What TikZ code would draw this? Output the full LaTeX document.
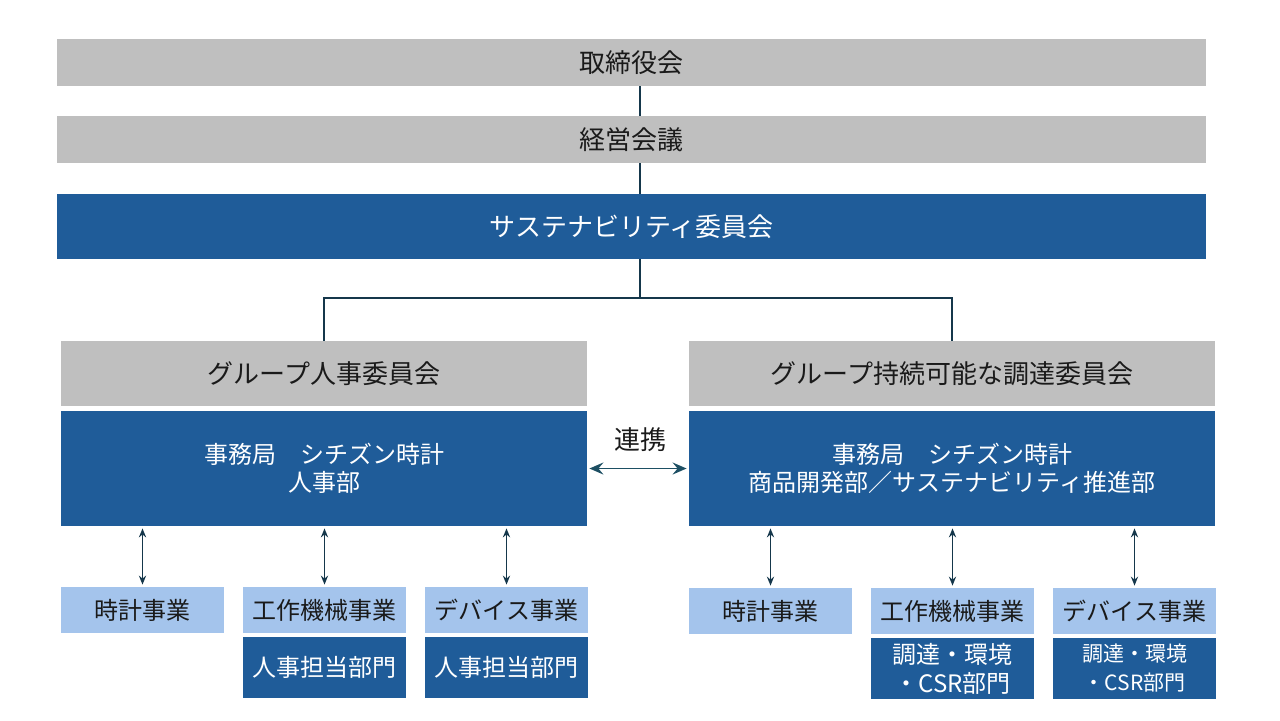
\documentclass[tikz,border=0pt]{standalone}
\usepackage{fontspec}
\setmainfont{Noto Sans CJK JP}
\usetikzlibrary{arrows.meta}
\definecolor{grayb}{HTML}{BFBFBF}
\definecolor{blueb}{HTML}{1F5C99}
\definecolor{lightb}{HTML}{A4C4EC}
\definecolor{linec}{HTML}{15374B}
\definecolor{linkc}{HTML}{1D4F63}
\definecolor{txt}{HTML}{1A1A1A}
\tikzset{
  base/.style={draw=none, inner sep=0pt, align=center},
  graybox/.style={base, fill=grayb, text=txt, font=\fontsize{13}{15}\selectfont},
  bluebox/.style={base, fill=blueb, text=white, font=\fontsize{13}{15}\selectfont},
  secbox/.style={base, fill=blueb, text=white, font=\fontsize{12}{14}\selectfont},
  unitbox/.style={base, fill=lightb, text=txt, minimum width=81.5pt, minimum height=23pt, font=\fontsize{12}{14}\selectfont},
  deptbox/.style={base, fill=blueb, text=white, minimum width=81.5pt, minimum height=30.5pt, font=\fontsize{12}{14.5}\selectfont},
  conn/.style={draw=linec, line width=0.6pt},
  darrow/.style={draw=linec, line width=0.7pt, {Stealth[length=4.5pt,width=3.6pt,inset=1.5pt]}-{Stealth[length=4.5pt,width=3.6pt,inset=1.5pt]}},
  linkarrow/.style={draw=linkc, line width=0.9pt, {Stealth[length=7pt,width=6pt,inset=2.5pt]}-{Stealth[length=7pt,width=6pt,inset=2.5pt]}},
}
\begin{document}
\begin{tikzpicture}[x=0.5pt,y=-0.5pt]
\useasboundingbox (0,0) rectangle (1280,720);
% top
\node[graybox, minimum width=574.5pt, minimum height=23.5pt] (board) at (631.5,62.5) {取締役会};
\node[graybox, minimum width=574.5pt, minimum height=23.5pt] (mgmt) at (631.5,139.5) {経営会議};
\node[bluebox, minimum width=574.5pt, minimum height=32.5pt] (sus) at (631.5,226.5) {サステナビリティ委員会};
\coordinate (mid) at (640,298);
% committees
\node[graybox, minimum width=263pt, minimum height=32.5pt] (lg) at (324,373.5) {グループ人事委員会};
\node[secbox, minimum width=263pt, minimum height=57.5pt] (lb) at (324,468.5) {事務局　シチズン時計\\人事部};
\node[graybox, minimum width=263pt, minimum height=32.5pt] (rg) at (952,373.5) {グループ持続可能な調達委員会};
\node[secbox, minimum width=263pt, minimum height=57.5pt] (rb) at (952,468.5) {事務局　シチズン時計\\商品開発部／サステナビリティ推進部};
\node[text=txt, font=\fontsize{13}{15}\selectfont, inner sep=0pt] (link) at (640,440) {連携};
% left units
\node[unitbox] (lu1) at (142.5,610) {時計事業};
\node[unitbox] (lu2) at (324.5,610) {工作機械事業};
\node[unitbox] (lu3) at (506.5,610) {デバイス事業};
\node[deptbox] (ld2) at (324.5,667.5) {人事担当部門};
\node[deptbox] (ld3) at (506.5,667.5) {人事担当部門};
% right units
\node[unitbox] (ru1) at (770.5,611) {時計事業};
\node[unitbox] (ru2) at (952.5,611) {工作機械事業};
\node[unitbox] (ru3) at (1134.5,611) {デバイス事業};
\node[deptbox] (rd2) at (952.5,668.5) {調達・環境\\・CSR部門};
\node[deptbox, font=\fontsize{10.5}{14.5}\selectfont] (rd3) at (1134.5,668.5) {調達・環境\\・CSR部門};
% connectors
\draw[conn] (board.south -| mid) -- (mgmt.north -| mid);
\draw[conn] (mgmt.south -| mid) -- (sus.north -| mid);
\draw[conn] (sus.south -| mid) -- (mid);
\draw[conn] (lg.north) |- (mid) -| (rg.north);
\draw[linkarrow, shorten <=1pt, shorten >=1pt] (lb.east) -- (rb.west);
\foreach \u in {lu1,lu2,lu3,ru1,ru2,ru3}{
  \draw[darrow, shorten <=1pt, shorten >=1pt] (\u.north) -- (\u.north |- lb.south);
}
\end{tikzpicture}
\end{document}
